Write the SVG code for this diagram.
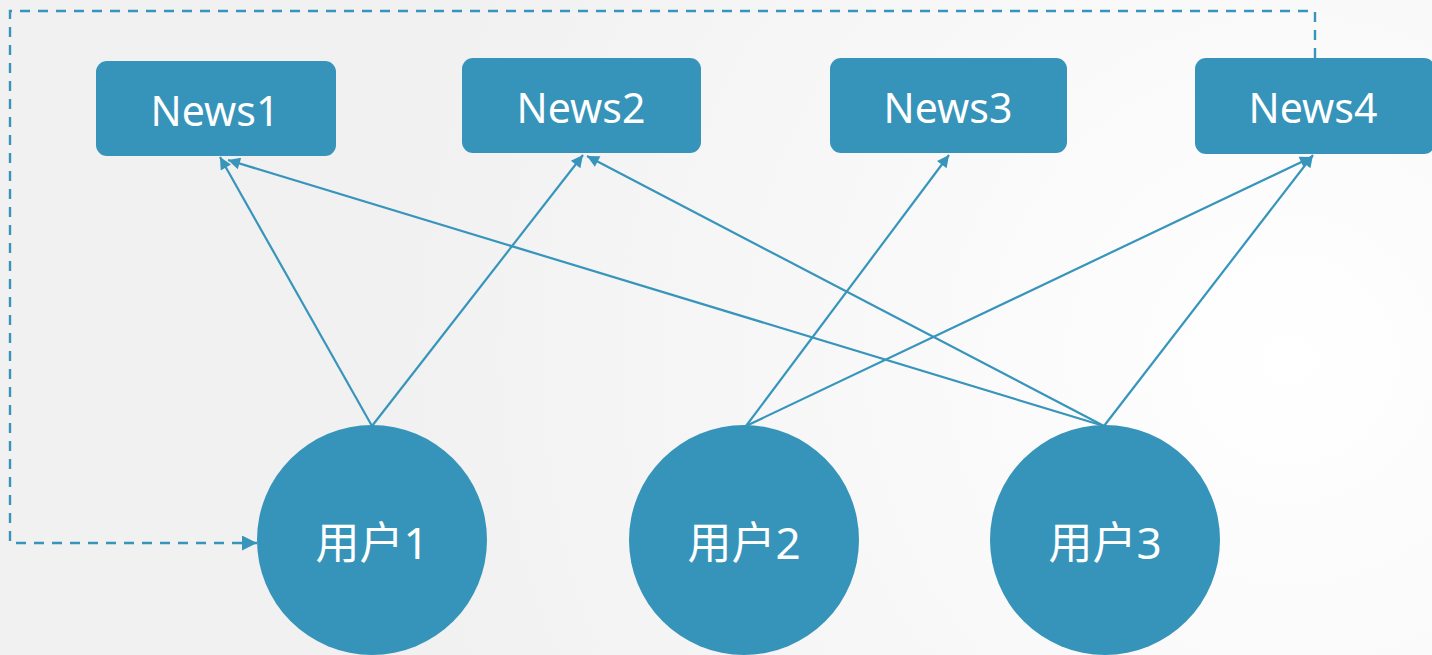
<svg xmlns="http://www.w3.org/2000/svg" width="1432" height="655" viewBox="0 0 1432 655">
<defs>
<radialGradient id="bg" cx="1290" cy="360" r="900" gradientUnits="userSpaceOnUse">
<stop offset="0" stop-color="#ffffff"/>
<stop offset="0.35" stop-color="#fafafa"/>
<stop offset="1" stop-color="#f1f1f1"/>
</radialGradient>
<marker id="ah" viewBox="0 0 10 10" refX="10" refY="5" markerWidth="14" markerHeight="12" markerUnits="userSpaceOnUse" orient="auto">
<path d="M0,0 L10,5 L0,10 z" fill="#3795bc"/>
</marker>
<marker id="ahd" viewBox="0 0 10 10" refX="10" refY="5" markerWidth="15" markerHeight="15" markerUnits="userSpaceOnUse" orient="auto">
<path d="M0,0 L10,5 L0,10 z" fill="#3795bc"/>
</marker>
</defs>
<style>
.box{fill:#3694ba;}
.circ{fill:#3694ba;}
.lbl{fill:#ffffff;font-family:"Noto Sans","Open Sans","Noto Sans CJK SC",sans-serif;font-size:41px;text-anchor:middle;}
.ulbl{fill:#ffffff;font-family:"Noto Sans","Noto Sans CJK SC",sans-serif;font-size:44px;text-anchor:middle;}
.edge{stroke:#3795bc;stroke-width:2.2;fill:none;marker-end:url(#ah);}
.dash{stroke:#3795bc;stroke-width:2.4;fill:none;stroke-dasharray:10,8;marker-end:url(#ahd);}
</style>
<rect x="0" y="0" width="1432" height="655" fill="url(#bg)"/>
<g id="connectors">
<path class="dash" d="M1315,58 L1315,11 L10,11 L10,543 L257,543"/>
<line class="edge" x1="372" y1="426" x2="220" y2="157"/>
<line class="edge" x1="372" y1="426" x2="583" y2="155"/>
<line class="edge" x1="1104" y1="426" x2="228" y2="160"/>
<line class="edge" x1="1104" y1="426" x2="587" y2="156"/>
<line class="edge" x1="1104" y1="426" x2="1313" y2="155"/>
<line class="edge" x1="746" y1="426" x2="949" y2="155"/>
<line class="edge" x1="746" y1="426" x2="1312" y2="157"/>
</g>
<g id="news1"><rect class="box" x="96" y="61" width="240" height="95" rx="11"/><text class="lbl" x="215" y="126">News1</text></g>
<g id="news2"><rect class="box" x="462" y="58" width="239" height="95" rx="11"/><text class="lbl" x="581" y="123">News2</text></g>
<g id="news3"><rect class="box" x="830" y="58" width="237" height="95" rx="11"/><text class="lbl" x="948" y="123">News3</text></g>
<g id="news4"><rect class="box" x="1195" y="58" width="240" height="96" rx="11"/><text class="lbl" x="1313" y="123">News4</text></g>
<g id="user1"><circle class="circ" cx="372" cy="540" r="115"/><text class="ulbl" x="372" y="559">用户1</text></g>
<g id="user2"><circle class="circ" cx="744" cy="540" r="115"/><text class="ulbl" x="744" y="559">用户2</text></g>
<g id="user3"><circle class="circ" cx="1105" cy="540" r="115"/><text class="ulbl" x="1105" y="559">用户3</text></g>
</svg>
